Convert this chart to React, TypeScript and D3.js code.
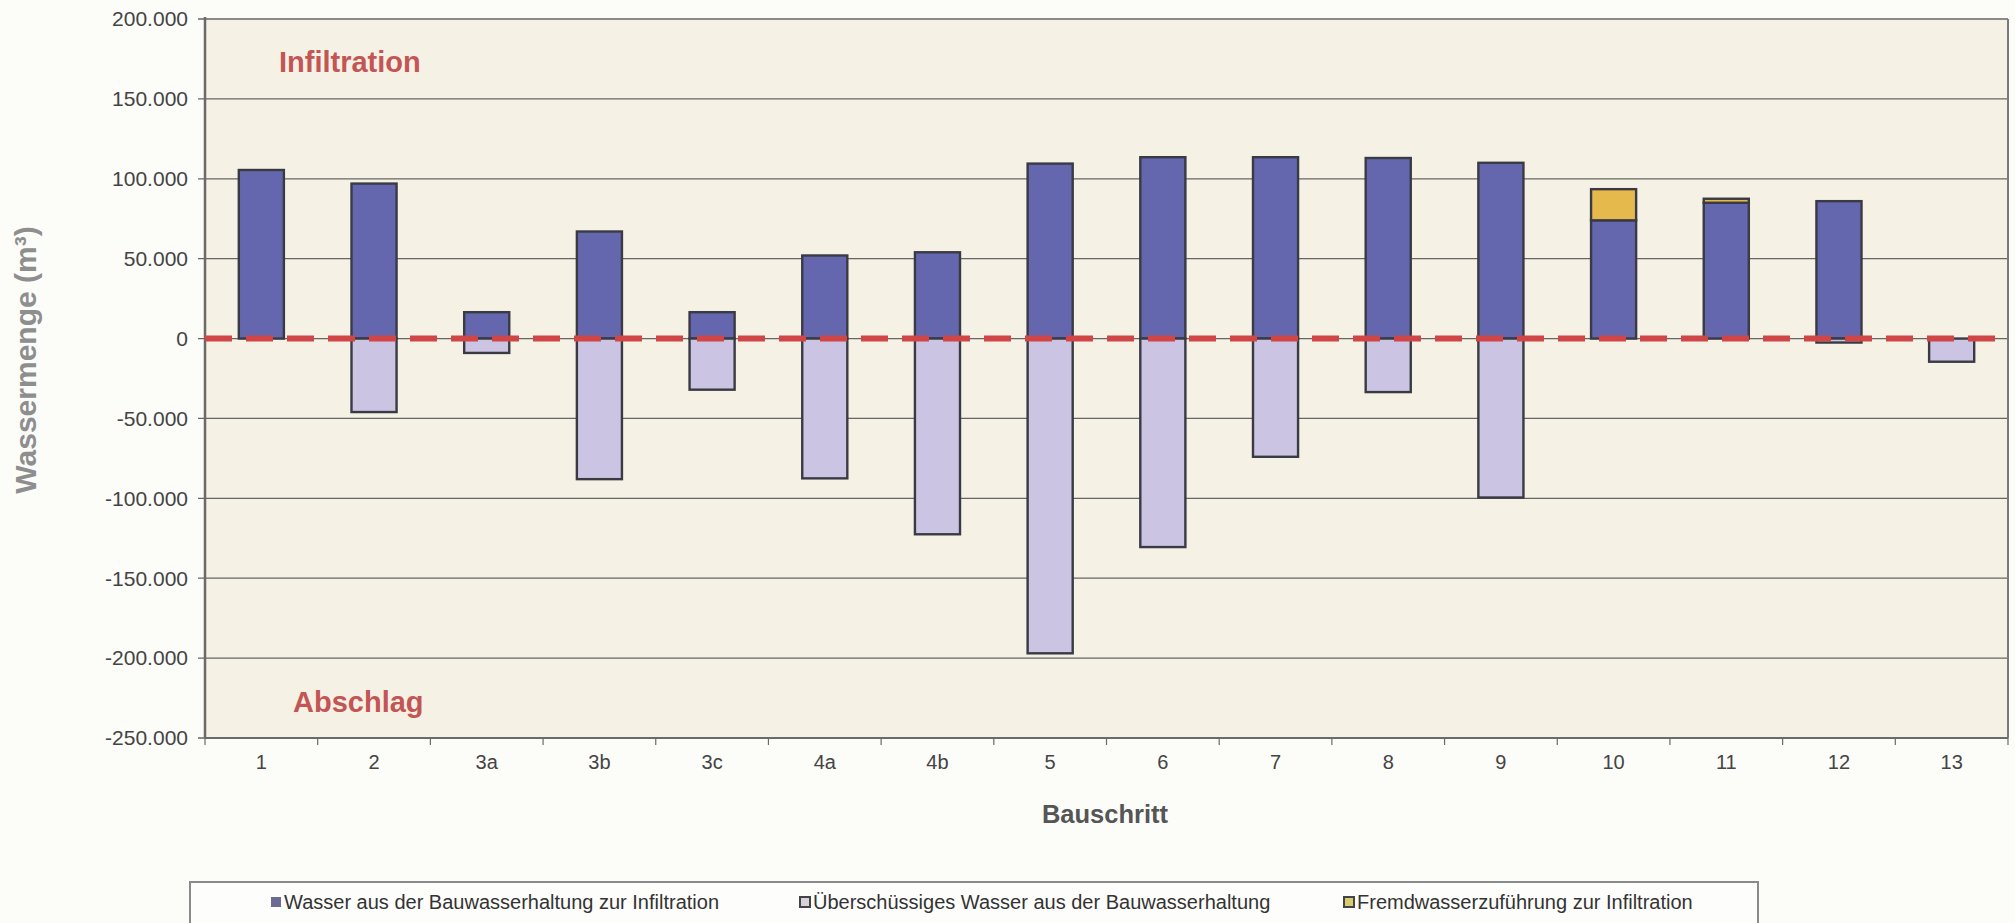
import React from "react";
import * as d3 from "d3";

const categories = ["1", "2", "3a", "3b", "3c", "4a", "4b", "5", "6", "7", "8", "9", "10", "11", "12", "13"];
const infiltration = [105500, 97000, 16500, 67000, 16500, 52000, 54000, 109500, 113500, 113500, 113000, 110000, 74000, 85000, 86000, 0];
const ueberschuss = [0, -46000, -9000, -88000, -32000, -87500, -122500, -197000, -130500, -74000, -33500, -99500, 0, 0, -2500, -14500];
const fremdwasser = [0, 0, 0, 0, 0, 0, 0, 0, 0, 0, 0, 0, 19500, 2500, 0, 0];
const yTicks = [200000, 150000, 100000, 50000, 0, -50000, -100000, -150000, -200000, -250000];
const seriesNames = [
  "Wasser aus der Bauwasserhaltung zur Infiltration",
  "Überschüssiges Wasser aus der Bauwasserhaltung",
  "Fremdwasserzuführung zur Infiltration",
];
const seriesKeys = ["infiltration", "ueberschuss", "fremd"];
const seriesColors = ["#6567ae", "#cbc4e2", "#e5b94c"];
const legendColors = ["#6a6a92", "#d6d2dc", "#d8cc70"];

const W = 2015;
const H = 923;
const plot = { left: 205, right: 2008, top: 19, bottom: 738 };

const fmt = d3
  .formatLocale({ decimal: ",", thousands: ".", grouping: [3], currency: ["", "€"], minus: "-" })
  .format(",d");

export default function App() {
  const x = d3
    .scaleBand<string>()
    .domain(categories)
    .range([plot.left, plot.right])
    .paddingInner(0.6)
    .paddingOuter(0.3);
  const y = d3.scaleLinear().domain([-250000, 200000]).range([plot.bottom, plot.top]);

  const rows = categories.map((c, i) => ({
    cat: c,
    infiltration: infiltration[i],
    ueberschuss: ueberschuss[i],
    fremd: fremdwasser[i],
  }));
  const stacked = d3
    .stack<any>()
    .keys(seriesKeys)
    .offset(d3.stackOffsetDiverging)(rows);

  const step = x.step();
  const boundaries = d3.range(categories.length + 1).map((i) => plot.left + i * step);

  const font = "'Liberation Sans', Arial, sans-serif";

  const legendX = [271, 800, 1344];

  return (
    <svg
      width={W}
      height={H}
      style={{ position: "absolute", left: 0, top: 0, background: "#fdfdfb" }}
      fontFamily={font}
    >
      <rect x={0} y={0} width={W} height={H} fill="#fcfcf9" />
      <rect
        x={plot.left}
        y={plot.top}
        width={plot.right - plot.left}
        height={plot.bottom - plot.top}
        fill="#f5f2e5"
      />
      {/* gridlines */}
      {yTicks.map((t) => (
        <line
          key={"g" + t}
          x1={plot.left - 7}
          x2={plot.right}
          y1={y(t)}
          y2={y(t)}
          stroke="#666"
          strokeWidth={1.3}
        />
      ))}
      {/* y tick labels */}
      {yTicks.map((t) => (
        <text
          key={"t" + t}
          x={188}
          y={y(t)}
          dy="0.35em"
          textAnchor="end"
          fontSize={21}
          fill="#444"
        >
          {fmt(t)}
        </text>
      ))}
      {/* bars */}
      {stacked.map((s, si) =>
        s.map((d, i) => {
          const y0 = y(d[0]);
          const y1 = y(d[1]);
          const top = Math.min(y0, y1);
          const h = Math.abs(y1 - y0);
          if (h < 0.5) return null;
          return (
            <rect
              key={si + "-" + i}
              x={x(categories[i])}
              y={top}
              width={x.bandwidth()}
              height={h}
              fill={seriesColors[si]}
              stroke="#3a3a44"
              strokeWidth={2.4}
            />
          );
        })
      )}
      {/* axes */}
      <line x1={plot.left} x2={plot.left} y1={plot.top - 2} y2={plot.bottom} stroke="#6a6a6a" strokeWidth={2.5} />
      <line x1={plot.right} x2={plot.right} y1={plot.top} y2={plot.bottom} stroke="#7a7a7a" strokeWidth={2} />
      <line x1={plot.left} x2={plot.right} y1={plot.bottom} y2={plot.bottom} stroke="#6a6a6a" strokeWidth={2} />
      {boundaries.map((bx, i) => (
        <line key={"xb" + i} x1={bx} x2={bx} y1={plot.bottom} y2={plot.bottom + 7} stroke="#6a6a6a" strokeWidth={1.2} />
      ))}
      {/* zero dashed line */}
      <line
        x1={plot.left}
        x2={plot.right - 10}
        y1={y(0)}
        y2={y(0)}
        stroke="#d04646"
        strokeWidth={6}
        strokeDasharray="27 14"
      />
      {/* x labels */}
      {categories.map((c) => (
        <text
          key={"x" + c}
          x={(x(c) as number) + x.bandwidth() / 2}
          y={769}
          textAnchor="middle"
          fontSize={20}
          fill="#444"
        >
          {c}
        </text>
      ))}
      <text x={1105} y={823} textAnchor="middle" fontSize={25.5} fontWeight="bold" fill="#555">
        Bauschritt
      </text>
      <text
        transform={`translate(36, 360) rotate(-90)`}
        textAnchor="middle"
        fontSize={30}
        fontWeight="bold"
        fill="#8e8e8e"
      >
        Wassermenge (m³)
      </text>
      {/* annotations */}
      <text x={279} y={72} fontSize={29} fontWeight="bold" fill="#c45555">
        Infiltration
      </text>
      <text x={293} y={712} fontSize={29} fontWeight="bold" fill="#c45555">
        Abschlag
      </text>
      {/* legend */}
      <rect x={190} y={882} width={1568} height={42} fill="#fdfdfb" stroke="#8a8a8a" strokeWidth={2} />
      {seriesNames.map((n, i) => (
        <g key={"l" + i}>
          <rect
            x={legendX[i]}
            y={897}
            width={10}
            height={10}
            fill={legendColors[i]}
            stroke="#444"
            strokeWidth={i === 0 ? 0 : 2}
          />
          <text x={legendX[i] + 13} y={909} fontSize={20} fill="#333">
            {n}
          </text>
        </g>
      ))}
    </svg>
  );
}
